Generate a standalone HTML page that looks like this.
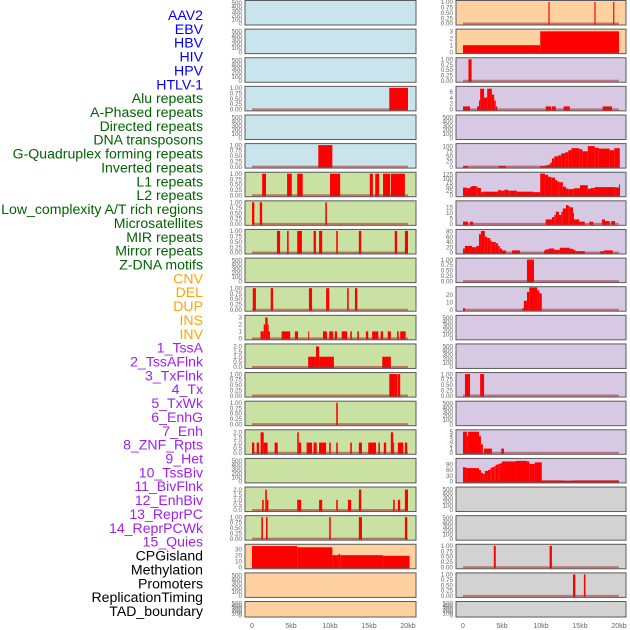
<!DOCTYPE html>
<html><head><meta charset="utf-8">
<style>
html,body{margin:0;padding:0;background:#fff;}
svg{display:block;font-family:"Liberation Sans",sans-serif;}
</style></head>
<body>
<svg id="chart" width="630" height="630" viewBox="0 0 630 630" xmlns="http://www.w3.org/2000/svg"></svg>
<script>
// ---------- data ----------
const trackLabels = ["AAV2","EBV","HBV","HIV","HPV","HTLV-1","Alu repeats","A-Phased repeats","Directed repeats","DNA transposons","G-Quadruplex forming repeats","Inverted repeats","L1 repeats","L2 repeats","Low_complexity A/T rich regions","Microsatellites","MIR repeats","Mirror repeats","Z-DNA motifs","CNV","DEL","DUP","INS","INV","1_TssA","2_TssAFlnk","3_TxFlnk","4_Tx","5_TxWk","6_EnhG","7_Enh","8_ZNF_Rpts","9_Het","10_TssBiv","11_BivFlnk","12_EnhBiv","13_ReprPC","14_ReprPCWk","15_Quies","CPGisland","Methylation","Promoters","ReplicationTiming","TAD_boundary"];
const trackGroups = ["v","v","v","v","v","v","r","r","r","r","r","r","r","r","r","r","r","r","r","s","s","s","s","s","c","c","c","c","c","c","c","c","c","c","c","c","c","c","c","o","o","o","o","o"];
const xTickValues = [0,5,10,15,20];
const xTickLabels = ["0","5kb","10kb","15kb","20kb"];

const ticksEmpty = [0,100,200,300,400,500];
const ticksBinary = [0,0.25,0.5,0.75,1];
const ticks0to3 = [0,1,2,3];
const ticks0to2 = [0,0.5,1,1.5,2];

// segments: [startKb, endKb, value]
const segHIV = [[17.6,20,1]];
const segHTLV = [[8.5,10.3,1]];
const segAlu = [[1.3,1.8,1],[4.5,5.1,1],[5.8,6.5,1],[10,11.3,1],[15.1,15.5,1],[15.8,16.3,1],[16.8,17.7,1],[17.8,19.6,1]];
const segAPhased = [[0,0.3,1],[1.0,1.3,1],[9.4,9.6,1]];
const segDirected = [[3.2,3.6,1],[4.5,4.7,1],[5.8,6.4,1],[7.9,8.2,1],[8.6,9.0,1],[10.8,11.0,1],[13.7,14.0,1],[18.3,18.6,1],[19.6,20,1]];
const segGQuad = [[0.1,0.5,1],[2.4,2.7,1],[7.3,7.7,1],[9.5,9.9,1],[12.2,12.4,1],[13.2,13.5,1]];
const segInverted = [[1.1,1.5,1],[1.5,1.7,2],[1.7,2.0,3],[2.0,2.1,2],[2.1,2.3,1],[3.8,4.9,1],[5.5,5.9,1],[7.2,7.3,1],[9.1,9.6,1],[9.9,10.4,1],[10.6,10.9,1],[11.5,12.2,1],[12.6,12.8,1],[13.5,13.7,1],[14.6,14.9,1],[15.4,16.2,1],[16.5,16.8,1],[17.4,17.8,1],[18.6,18.8,1],[19.0,19.7,1]];
const segL1 = [[7.2,8.2,1],[8.2,8.6,2],[8.6,10.5,1],[16.7,17.8,1]];
const segL2 = [[17.6,18.6,1],[18.65,19.0,1]];
const segLowComplex = [[10.8,11.0,1]];
const segMicrosat = [[0,0.3,1],[0.6,0.9,1],[1.1,1.5,2],[1.5,2.0,1],[2.9,3.3,1],[5.8,6.0,2],[6.0,6.3,1],[7.0,7.7,1],[7.9,8.3,1],[8.6,9.5,1],[9.9,10.1,1],[10.8,11.0,1],[12.6,12.8,1],[13.7,14.1,1],[14.9,15.9,1],[16.2,16.4,1],[16.9,17.2,1],[17.8,18.1,2],[18.1,18.2,1],[18.7,19.4,1],[19.6,19.9,1]];
const segMirror = [[1.3,1.5,1],[1.7,1.9,2],[1.9,2.1,1],[5.8,6.3,1],[8.6,9.0,1],[10.8,11.0,1],[12.3,12.7,1],[13.7,14.0,2],[18.1,18.3,1],[18.7,19.0,1],[19.6,20,2]];
const segZDNA = [[1.2,1.4,1],[1.8,2.0,1],[9.9,10.1,1],[13.7,14.1,1],[19.6,19.9,1]];
const segCNV = [[0,5.8,35],[5.8,10.3,33],[10.3,11.1,20],[11.1,11.3,22],[11.3,16.8,20],[16.8,20.2,19]];
const segINS = [[10.95,11.1,1],[16.85,17.0,1],[19.25,19.4,1]];
const segINV = [[0,9.9,1],[9.9,20,3]];
const segTssA = [[0.7,1.1,1]];
const segTssAFlnk = [[0,0.9,1],[1.8,2.05,1],[2.05,2.2,3],[2.2,2.7,7],[2.7,3.1,4],[3.1,3.7,7],[3.7,4.0,5],[4.0,4.2,3],[4.2,4.4,1],[10.6,11.3,1],[11.4,11.9,1],[12.9,13.7,1],[17.9,19.1,1]];
const segTx = [[0,0.6,3],[4.6,5.5,3],[9.9,10.5,3],[10.5,10.9,6],[10.9,11.2,10],[11.2,11.4,20],[11.4,11.7,40],[11.7,12.2,50],[12.2,12.6,55],[12.6,13.1,65],[13.1,13.5,70],[13.5,13.9,80],[13.9,14.9,90],[14.9,15.3,85],[15.3,16.0,75],[16.0,16.9,100],[16.9,17.4,92],[17.4,18.8,88],[18.8,19.4,80],[19.4,20.1,90]];
const segTxWk = [[0,0.5,45],[0.5,0.9,41],[0.9,1.15,50],[1.15,1.7,54],[1.7,1.9,50],[1.9,2.3,43],[2.3,2.6,18],[2.6,4.5,21],[4.5,4.9,30],[4.9,5.3,27],[5.3,5.8,32],[5.8,6.9,27],[6.9,9.0,21],[9.0,9.9,18],[9.9,10.5,128],[10.5,10.9,121],[10.9,11.3,109],[11.3,11.8,104],[11.8,12.1,89],[12.1,12.4,80],[12.4,12.8,77],[12.8,13.2,50],[13.2,13.5,39],[13.5,14.2,36],[14.2,15.0,41],[15.0,16.0,59],[16.0,16.4,38],[16.4,16.9,43],[16.9,19.6,48],[19.6,20.0,46],[20.0,20.1,64]];
const segEnhG = [[0,0.65,2],[0.9,1.3,2],[10.6,11.4,4],[11.4,11.7,6],[11.7,11.9,8],[11.9,12.3,11],[12.3,12.6,8],[12.6,12.8,11],[12.8,13.2,14],[13.2,13.5,17],[13.5,13.7,16],[13.7,14.1,15],[14.1,14.2,10],[14.2,14.9,4],[14.9,15.6,2],[16.2,16.7,2],[17.8,18.2,4],[18.2,18.8,2.5],[19.0,19.5,2.5]];
const segEnh = [[0,0.25,15],[0.25,1.15,25],[1.15,1.7,20],[1.7,2.05,25],[2.05,2.3,70],[2.3,2.8,82],[2.8,3.1,60],[3.1,3.5,55],[3.5,3.7,45],[3.7,4.2,40],[4.2,4.5,35],[4.5,4.7,25],[4.7,5.0,15],[5.0,5.5,8],[6.3,7.3,8],[10.4,10.6,8],[10.6,11.0,12],[11.0,11.7,15],[11.7,12.4,10],[12.4,13.7,18],[13.7,14.1,14],[14.1,14.4,10],[14.4,15.6,5],[17.6,18.1,5],[18.1,19.2,8]];
const segZNF = [[8.2,9.1,1]];
const segHet = [[0,0.25,2],[7.6,7.8,2],[7.8,8.2,12],[8.2,8.5,24],[8.5,9.5,30],[9.5,9.8,26],[9.8,10.1,22]];
const segEnhBiv = [[0.25,0.9,1],[2.2,2.7,1]];
const segReprPCWk = [[0,0.5,5],[0.5,0.65,4],[0.65,2.05,5],[2.05,2.3,4],[2.3,2.55,2],[2.7,3.7,1],[4.9,5.25,1]];
const segQuies = [[0,0.25,75],[0.25,0.5,72],[0.5,2.05,70],[2.05,2.3,60],[2.3,2.55,45],[2.55,2.8,40],[2.8,3.2,55],[3.2,3.5,60],[3.5,3.7,70],[3.7,4.0,75],[4.0,4.2,80],[4.2,4.5,88],[4.5,4.7,92],[4.7,5.0,95],[5.0,6.8,105],[6.8,8.2,108],[8.2,8.5,105],[8.5,9.2,92],[9.2,10.1,100],[10.1,12.8,5],[12.8,14.1,3],[14.1,20.0,5]];
const segPromoters = [[3.95,4.2,1],[11.1,11.4,1]];
const segReplication = [[14.1,14.4,1],[15.5,15.7,1]];

// panel list: [column, row, group, ticks, tickLabels, yMax, segments]
const leftPanels = [
 [0,0,"v",ticksEmpty,null,520,null],[0,1,"v",ticksEmpty,null,520,null],[0,2,"v",ticksEmpty,null,520,null],
 [0,3,"v",ticksBinary,"bin",1,segHIV],[0,4,"v",ticksEmpty,null,520,null],[0,5,"v",ticksBinary,"bin",1,segHTLV],
 [0,6,"r",ticksBinary,"bin",1,segAlu],[0,7,"r",ticksBinary,"bin",1,segAPhased],[0,8,"r",ticksBinary,"bin",1,segDirected],
 [0,9,"r",ticksEmpty,null,520,null],[0,10,"r",ticksBinary,"bin",1,segGQuad],[0,11,"r",ticks0to3,null,3.1,segInverted],
 [0,12,"r",ticks0to2,"one",2.1,segL1],[0,13,"r",ticksBinary,"bin",1,segL2],[0,14,"r",ticksBinary,"bin",1,segLowComplex],
 [0,15,"r",ticks0to2,"one",2.1,segMicrosat],[0,16,"r",ticksEmpty,null,520,null],[0,17,"r",ticks0to2,"one",2.1,segMirror],
 [0,18,"r",ticksBinary,"bin",1,segZDNA],[0,19,"s",[0,10,20,30],null,35.5,segCNV],[0,20,"s",ticksEmpty,null,520,null],[0,21,"s",ticksEmpty,null,520,null]
];
const rightPanels = [
 [1,0,"s",ticksBinary,"bin",1,segINS],[1,1,"s",ticks0to3,null,3.1,segINV],[1,2,"c",ticksBinary,"bin",1,segTssA],
 [1,3,"c",[0,2,4,6],null,7.3,segTssAFlnk],[1,4,"c",ticksEmpty,null,520,null],[1,5,"c",[0,25,50,75,100],null,105,segTx],
 [1,6,"c",[0,25,50,75,100,125],null,127,segTxWk],[1,7,"c",[0,5,10,15],null,19.5,segEnhG],[1,8,"c",[0,20,40,60,80],null,82,segEnh],
 [1,9,"c",ticksBinary,"bin",1,segZNF],[1,10,"c",[0,10,20],null,29,segHet],[1,11,"c",ticksEmpty,null,520,null],
 [1,12,"c",ticksEmpty,null,520,null],[1,13,"c",ticksBinary,"bin",1,segEnhBiv],[1,14,"c",ticksEmpty,null,520,null],
 [1,15,"c",[0,1,2,3,4,5],null,5.1,segReprPCWk],[1,16,"c",[0,30,60,90],null,113,segQuies],
 [1,17,"o",ticksEmpty,null,520,null],[1,18,"o",ticksEmpty,null,520,null],[1,19,"o",ticksBinary,"bin",1,segPromoters],
 [1,20,"o",ticksBinary,"bin",1,segReplication],[1,21,"o",ticksEmpty,null,520,null]
];

// ---------- drawing ----------
const NS = "http://www.w3.org/2000/svg";
const svg = document.getElementById("chart");
const labelColor = {v:"#0000ff", r:"#006400", s:"#ffa500", c:"#a020f0", o:"#000000"};
const panelFill = {v:"#c9e4ec", r:"#c9e1a2", s:"#ffd1a0", c:"#d7c8e3", o:"#d2d2d2"};
const colX = [245, 456];
const colW = [171, 170];
const zeroX = [252, 463];
const pxPerKb = 7.8;
const rowPitch = 28.62;

function mk(tag, attrs){ const e = document.createElementNS(NS, tag); for (const k in attrs) e.setAttribute(k, attrs[k]); return e; }
function xScale(col, kb){ return zeroX[col] + kb * pxPerKb; }

// labels
trackLabels.forEach((t, i) => {
  const el = mk("text", {x:203, y:15 + i*13.86 + 5, "text-anchor":"end", "font-size":"14.1", fill:labelColor[trackGroups[i]]});
  el.textContent = t;
  
  
  svg.appendChild(el);
});

function fmtTick(v, kind){
  if (kind === "bin") return v.toFixed(2);
  if (kind === "one") return v.toFixed(1);
  return String(v);
}

function drawPanel(p){
  const [col,row,grp,ticks,kind,yMax,segs] = p;
  const top = 0.5 + row*rowPitch;
  const h = row === 21 ? 15.5 : 24.5;
  const x0 = colX[col], w = colW[col];
  const g = mk("g", {});
  
  
  const bg = mk("rect", {x:x0, y:top, width:w, height:h, fill:panelFill[grp], stroke:"#5a5a5a", "stroke-width":"1"});
  
  
  g.appendChild(bg);
  const yb = top + h - 1.5, yt = top + 1.5;
  const yS = v => yb - (v / yMax) * (yb - yt);
  ticks.forEach(tv => {
    const tl = mk("text", {x:x0 - 3, y:yS(tv) + 2.2, "text-anchor":"end", "font-size":"6.3", fill:"#666"});
    tl.textContent = fmtTick(tv, kind);
    
    
    g.appendChild(tl);
  });
  if (segs){
    segs.forEach(s => {
      const xa = xScale(col, s[0]), xb = xScale(col, s[1]);
      const r = mk("rect", {x:xa, y:Math.max(top, yS(s[2])), width:Math.max(1, xb - xa), height:yb - Math.max(top, yS(s[2])) + 1, fill:"#ff0000"});
      
      
      g.appendChild(r);
    });
    const base = mk("line", {x1:xScale(col,0), x2:xScale(col,20), y1:yb, y2:yb, stroke:"rgba(170,40,40,0.55)", "stroke-width":"2"});
    
    
    g.appendChild(base);
  }
  svg.appendChild(g);
}
leftPanels.forEach(drawPanel);
rightPanels.forEach(drawPanel);

// x axes
[0,1].forEach(col => {
  xTickValues.forEach((v, i) => {
    const t = mk("text", {x:xScale(col, v), y:628, "text-anchor":"middle", "font-size":"7", fill:"#666"});
    t.textContent = xTickLabels[i];
    
    
    svg.appendChild(t);
  });
});
</script>
</body></html>
